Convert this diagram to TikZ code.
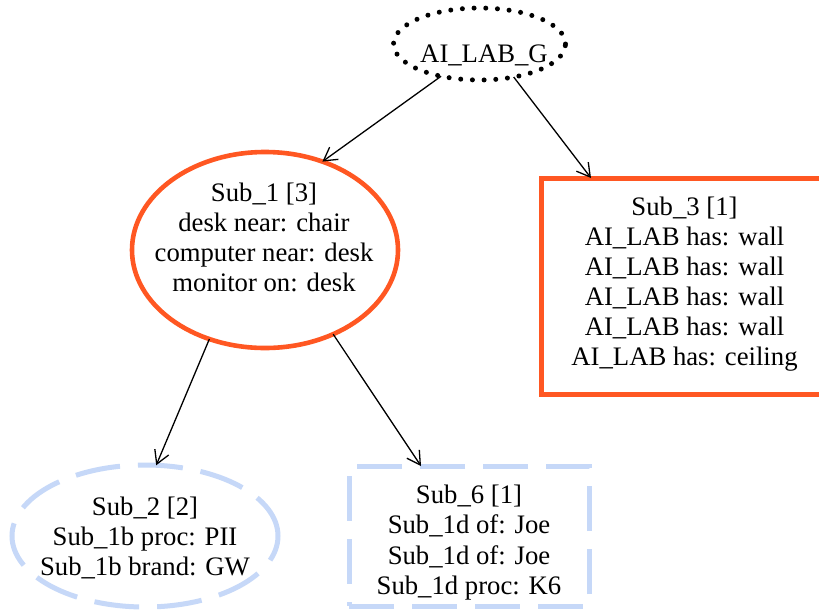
\documentclass[tikz,border=0pt]{standalone}
\usepackage{fontspec}
\setmainfont{Liberation Serif}
\usetikzlibrary{arrows.meta,shapes.geometric}
\definecolor{orng}{RGB}{255,87,34}
\definecolor{lblue}{RGB}{198,216,248}
\begin{document}
\begin{tikzpicture}[x=1pt,y=-1pt,
  txt/.style={anchor=base,inner sep=0pt,font=\fontsize{26.7}{30}\selectfont},
  edge/.style={draw=black,line width=1.3pt,-{Straight Barb[length=13pt,width=15pt]}},
  shp/.style={inner sep=0pt,outer sep=0pt},
  dotborder/.style={draw=black,line width=5pt,line cap=round,dash pattern=on 0pt off 11.7pt},
  orangeborder/.style={draw=orng,line width=4.6pt},
  blueborder/.style={draw=lblue,line width=5pt,dash pattern=on 45pt off 18pt}]
\useasboundingbox (0,0) rectangle (819,611);
\clip (0,0) rectangle (819,611);
\fill[white] (0,0) rectangle (819,611);

% shapes
\node[shp,ellipse,dotborder,minimum width=172pt,minimum height=72pt] (top) at (479.5,44) {};
\node[shp,ellipse,orangeborder,minimum width=266pt,minimum height=196pt] (s1) at (265,250) {};
\node[shp,rectangle,orangeborder,line width=5pt,minimum width=287pt,minimum height=216pt] (s3) at (684.5,286) {};
\node[shp,ellipse,blueborder,minimum width=266pt,minimum height=142pt] (s2) at (145,536) {};
\node[shp,rectangle,blueborder,minimum width=240pt,minimum height=140pt] (s6) at (469,536) {};

% texts
\node[txt] (toptxt) at (484,62) {AI\_LAB\_G};

\node[txt] (s1a) at (264,201) {Sub\_1 [3]};
\node[txt] (s1b) at (264,231) {desk near: chair};
\node[txt] (s1c) at (264,261) {computer near: desk};
\node[txt] (s1d) at (264,291) {monitor on: desk};

\node[txt] (s3a) at (684.5,215) {Sub\_3 [1]};
\node[txt] (s3b) at (684.5,245) {AI\_LAB has: wall};
\node[txt] (s3c) at (684.5,275) {AI\_LAB has: wall};
\node[txt] (s3d) at (684.5,305) {AI\_LAB has: wall};
\node[txt] (s3e) at (684.5,335) {AI\_LAB has: wall};
\node[txt] (s3f) at (684.5,365) {AI\_LAB has: ceiling};

\node[txt] (s2a) at (145,515) {Sub\_2 [2]};
\node[txt] (s2b) at (145,545) {Sub\_1b proc: PII};
\node[txt] (s2c) at (145,575) {Sub\_1b brand: GW};

\node[txt] (s6a) at (469,503) {Sub\_6 [1]};
\node[txt] (s6b) at (469,533) {Sub\_1d of: Joe};
\node[txt] (s6c) at (469,564) {Sub\_1d of: Joe};
\node[txt] (s6d) at (469,594) {Sub\_1d proc: K6};

% edges
\draw[edge] (top.220) -- (s1.57);
\draw[edge] (top.316) -- ([xshift=50pt]s3.north west);
\draw[edge] (s1.238.5) -- (s2.81);
\draw[edge] (s1.309) -- ([xshift=72pt]s6.north west);
\end{tikzpicture}
\end{document}
